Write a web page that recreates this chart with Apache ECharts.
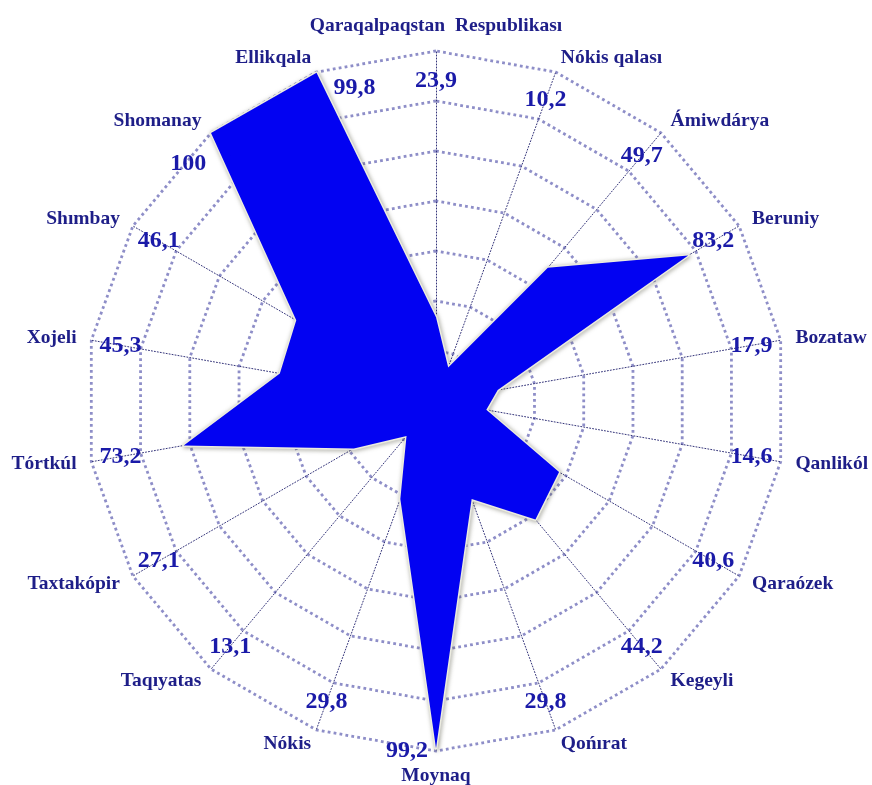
<!DOCTYPE html>
<html>
<head>
<meta charset="utf-8">
<title>Radar</title>
<script src="https://cdn.jsdelivr.net/npm/echarts@6/dist/echarts.min.js"></script>
<style>
  html, body { margin: 0; padding: 0; background: #ffffff; }
  #chart { width: 872px; height: 785px; }
</style>
</head>
<body>
<div id="chart"></div>
<script>
// Regions, listed clockwise from the top axis
const categories = [
  'Qaraqalpaqstan  Respublikası',
  'Nókis qalası',
  'Ámiwdárya',
  'Beruniy',
  'Bozataw',
  'Qanlikól',
  'Qaraózek',
  'Kegeyli',
  'Qońırat',
  'Moynaq',
  'Nókis',
  'Taqıyatas',
  'Taxtakópir',
  'Tórtkúl',
  'Xojeli',
  'Shımbay',
  'Shomanay',
  'Ellikqala'
];

const values = [
  23.9, 10.2, 49.7, 83.2, 17.9, 14.6, 40.6, 44.2, 29.8,
  99.2, 29.8, 13.1, 27.1, 73.2, 45.3, 46.1, 100, 99.8
];

const AXIS_MAX = 100;
const RINGS = 7;

// Layout
const CENTER = [436, 401];
const RADIUS = 350;
const LABEL_R = 91.5;           // value labels sit just inside the outer ring
const labelNudge = {            // keep a few value labels clear of the filled shape
  'Moynaq': [-29, 30],
  'Shomanay': [-42, 8],
  'Ellikqala': [28, -12]
};

const NAME_COLOR = '#1e1e88';
const VALUE_COLOR = '#1a1aa8';
const SERIF = '"Liberation Serif", "Times New Roman", serif';

// ECharts lays radar indicators out counter-clockwise, so mirror the list
// (keeping the first one on top) to read clockwise.
const order = [0].concat(categories.map((_, i) => i).slice(1).reverse());
const indicators = order.map(i => ({ name: categories[i], min: 0, max: AXIS_MAX }));
const radarValues = order.map(i => values[i]);

const fmt = v => String(v).replace('.', ',');

const chart = echarts.init(document.getElementById('chart'), null, { renderer: 'canvas' });

chart.setOption({
  backgroundColor: '#ffffff',
  animation: false,
  radar: {
    center: CENTER,
    radius: RADIUS,
    startAngle: 90,
    shape: 'polygon',
    splitNumber: RINGS,
    indicator: indicators,
    axisNameGap: 15,
    axisName: {
      color: NAME_COLOR,
      fontFamily: SERIF,
      fontWeight: 'bold',
      fontSize: 19.5
    },
    axisLine: {
      lineStyle: { color: '#34347a', width: 1, type: [1, 2] }
    },
    splitLine: {
      lineStyle: { color: '#8e8ec8', width: 2.8, type: [2.8, 3.2] }
    },
    splitArea: { show: false },
    axisTick: { show: false },
    axisLabel: { show: false }
  },
  polar: {
    center: CENTER,
    radius: RADIUS
  },
  angleAxis: {
    type: 'category',
    data: categories,
    startAngle: 90,
    clockwise: true,
    boundaryGap: false,
    show: false
  },
  radiusAxis: {
    min: 0,
    max: AXIS_MAX,
    show: false
  },
  series: [
    {
      type: 'radar',
      symbol: 'none',
      lineStyle: {
        color: '#ecece0',
        width: 3,
        shadowColor: 'rgba(70, 70, 50, 0.55)',
        shadowBlur: 4,
        shadowOffsetX: 1,
        shadowOffsetY: 1
      },
      areaStyle: { color: '#0202f2', opacity: 1 },
      data: [{ value: radarValues, name: 'values' }]
    },
    {
      type: 'scatter',
      coordinateSystem: 'polar',
      symbolSize: 0.1,
      itemStyle: { color: VALUE_COLOR, opacity: 1 },
      silent: true,
      z: 5,
      data: categories.map((name, i) => ({
        value: [LABEL_R, i],
        label: { offset: labelNudge[name] || [0, 0] }
      })),
      label: {
        show: true,
        position: 'inside',
        formatter: p => fmt(values[p.dataIndex]),
        color: VALUE_COLOR,
        opacity: 1,
        textBorderWidth: 0,
        fontFamily: SERIF,
        fontWeight: 'bold',
        fontSize: 24
      }
    }
  ]
});
</script>
</body>
</html>
